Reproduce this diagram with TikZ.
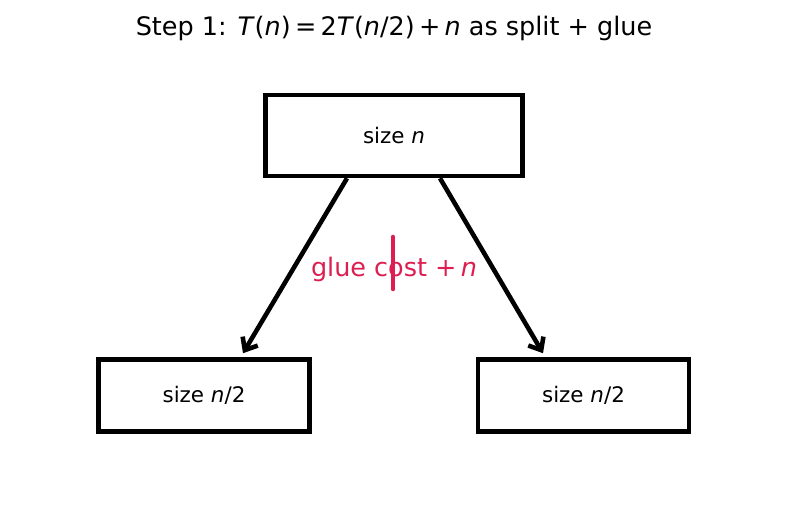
\documentclass[tikz,border=0pt]{standalone}
\usepackage{fontspec}
\setmainfont{DejaVu Sans}
\usepackage{xcolor}
\usetikzlibrary{arrows.meta,positioning}
\definecolor{gluered}{RGB}{220,30,80}
\tikzset{
  sizebox/.style={draw,line width=2.6pt,minimum width=#1,inner sep=0pt,font=\fontsize{12.2}{14}\selectfont},
  splitarrow/.style={line width=2.6pt,-{Straight Barb[length=6pt,width=10pt]}},
}
\newcommand{\vn}{\textit{n}}
\begin{document}
\begin{tikzpicture}
\useasboundingbox (0,0) rectangle (15.74,-10.28);
\node (title) at (7.88,-0.56) {\fontsize{14.5}{17}\selectfont Step 1: \textit{T}(\vn)\,=\,2\textit{T}(\vn/2)\,+\,\vn{} as split + glue};
%%%%%%%%%%%%%%%%
\node[sizebox=5.14cm,minimum height=1.62cm] (top) at (7.88,-2.71) {size \vn};
%%%%%%%%%%%%%%%%
\node[sizebox=4.22cm,minimum height=1.44cm] (left) at (4.08,-7.91) {size \vn/2};
\node[sizebox=4.22cm,minimum height=1.44cm] (right) at (11.67,-7.91) {size \vn/2};
%%%%%%%%%%%%%%%%
\draw[splitarrow] ([xshift=-0.94cm]top.south) -- ([xshift=0.78cm,yshift=0.08cm]left.north);
\draw[splitarrow] ([xshift=0.92cm]top.south) -- ([xshift=-0.81cm,yshift=0.08cm]right.north);
%%%%%%%%%%%%%%%%
\node[text=gluered,font=\fontsize{14.5}{17}\selectfont] (glue) at (7.88,-5.38) {glue cost +\,\vn};
\draw[gluered,line width=2.6pt,line cap=round] ([xshift=-0.02cm,yshift=0.64cm]glue.center) -- ([xshift=-0.02cm,yshift=-0.40cm]glue.center);
\end{tikzpicture}
\end{document}
